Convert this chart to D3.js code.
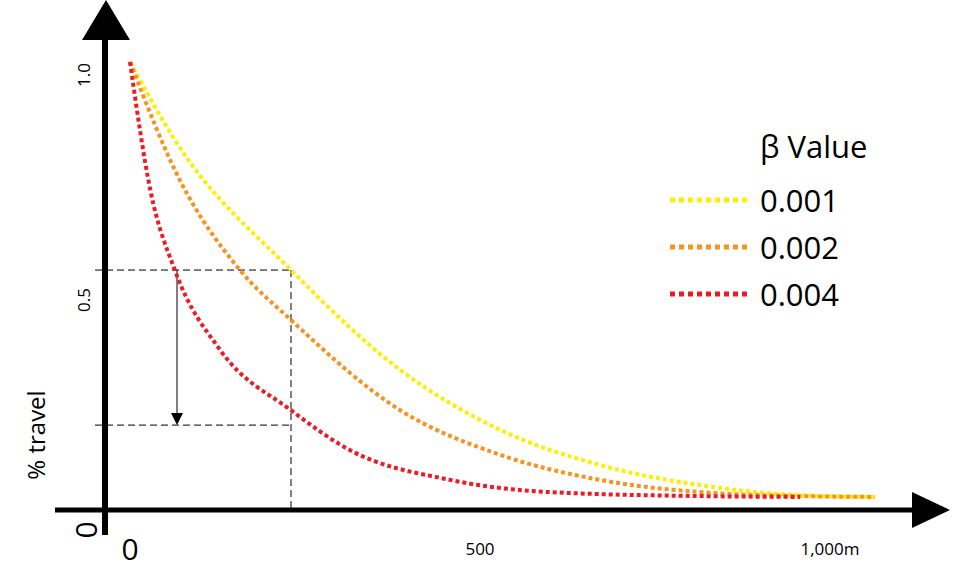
<!DOCTYPE html>
<html><head><meta charset="utf-8">
<script src="https://cdn.jsdelivr.net/npm/d3@7"></script>
<style>body{margin:0;background:#fff}text{font-family:"Open Sans",sans-serif}</style>
</head><body>
<script>
"use strict";

let w = 979, h = 572;

// distance (m) and share travelling
let yellowDist = [0, 64, 230, 386, 529, 671, 814, 957, 1064];
let yellowVal  = [1.0, 0.822, 0.525, 0.297, 0.160, 0.080, 0.034, 0.011, 0.007];
let orangeDist = [0, 71, 157, 230, 386, 529, 671, 814, 957, 1064];
let orangeVal  = [1.0, 0.731, 0.525, 0.411, 0.205, 0.103, 0.046, 0.018, 0.009, 0.007];
let redDist    = [0, 29, 64, 129, 230, 314, 457, 600, 814, 957];
let redVal     = [1.0, 0.708, 0.525, 0.342, 0.205, 0.114, 0.046, 0.018, 0.009, 0.007];
let betas  = ["0.001", "0.002", "0.004"];
let colors = ["#ffee00", "#f7931e", "#ed1c24"];
let halfVal = 0.525, dropVal = 0.171, markDist = 230;

let x = d3.scaleLinear().domain([0, 1000]).range([130, 830]);
let y = d3.scaleLinear().domain([0, 1]).range([500, 62]);

let svg = d3.select("body").append("svg").attr("width", w).attr("height", h);

// guide lines
let g = svg.append("g").attr("stroke", "#000").attr("stroke-width", 1).attr("stroke-dasharray", "7,4");
g.append("line").attr("x1", 95).attr("x2", x(markDist)).attr("y1", y(halfVal)).attr("y2", y(halfVal));
g.append("line").attr("x1", 95).attr("x2", x(markDist)).attr("y1", y(dropVal)).attr("y2", y(dropVal));
g.append("line").attr("x1", x(markDist)).attr("x2", x(markDist)).attr("y1", y(halfVal)).attr("y2", 510);

svg.append("line").attr("x1", 177).attr("x2", 177).attr("y1", y(halfVal)).attr("y2", y(dropVal) - 10)
    .attr("stroke", "#000").attr("stroke-width", 1);
svg.append("path").attr("d", `M171,${y(dropVal) - 12}L183,${y(dropVal) - 12}L177,${y(dropVal)}Z`).attr("fill", "#000");

// curves
let series = [[yellowDist, yellowVal], [orangeDist, orangeVal], [redDist, redVal]];
let line = d3.line().x(d => x(d[0])).y(d => y(d[1])).curve(d3.curveMonotoneX);
series.forEach((s, i) => {
    svg.append("path").datum(d3.zip(s[0], s[1])).attr("d", line)
        .attr("fill", "none").attr("stroke", colors[i]).attr("stroke-width", 4)
        .attr("stroke-dasharray", "4,3");
});

// axes
svg.append("line").attr("x1", 105).attr("x2", 105).attr("y1", 38).attr("y2", 535).attr("stroke", "#000").attr("stroke-width", 6);
svg.append("path").attr("d", "M82,40L130,40L106,0Z").attr("fill", "#000");
svg.append("line").attr("x1", 55).attr("x2", 915).attr("y1", 510).attr("y2", 510).attr("stroke", "#000").attr("stroke-width", 5);
svg.append("path").attr("d", "M912,492L912,528L950,510Z").attr("fill", "#000");

let rot = (tx, ty, txt, size) => svg.append("text").attr("transform", `translate(${tx},${ty}) rotate(-90)`)
    .attr("text-anchor", "middle").attr("font-size", size).text(txt);
rot(90, 75, "1.0", 17);
rot(90, y(halfVal) + 30, "0.5", 17);
rot(45, 435, "% travel", 24);
rot(97, 530, "0", 30);
svg.append("text").attr("x", 130).attr("y", 560).attr("text-anchor", "middle").attr("font-size", 30).text("0");
svg.append("text").attr("x", x(500)).attr("y", 555).attr("text-anchor", "middle").attr("font-size", 17).text("500");
svg.append("text").attr("x", x(1000)).attr("y", 555).attr("text-anchor", "middle").attr("font-size", 17).text("1,000m");

// legend
svg.append("text").attr("x", 760).attr("y", 158).attr("font-size", 31).text("β Value");
betas.forEach((b, i) => {
    let ly = 200 + i * 47;
    svg.append("line").attr("x1", 670).attr("x2", 750).attr("y1", ly).attr("y2", ly)
        .attr("stroke", colors[i]).attr("stroke-width", 5).attr("stroke-dasharray", "5,4");
    svg.append("text").attr("x", 760).attr("y", ly + 12).attr("font-size", 31).text(b);
});
</script>
</body></html>
